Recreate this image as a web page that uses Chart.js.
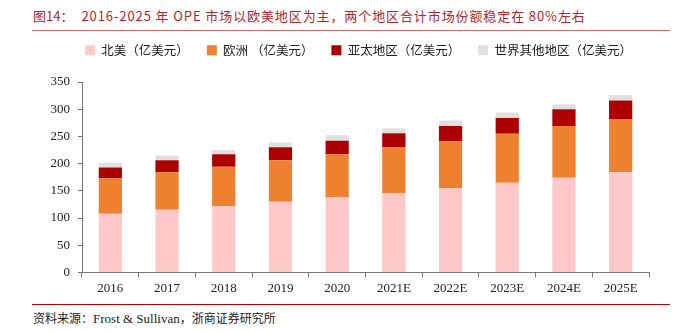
<!DOCTYPE html>
<html>
<head>
<meta charset="utf-8">
<script src="https://cdn.jsdelivr.net/npm/chart.js@4.4.0/dist/chart.umd.min.js"></script>
<style>
  body { margin: 0; background: #fff; width: 676px; height: 332px; position: relative; overflow: hidden; }
  .title { position: absolute; left: 33px; top: 6px; font-family: "Noto Sans CJK SC", sans-serif; font-size: 13px; color: #b3262c; white-space: nowrap; letter-spacing: 0.9px; }
  .title .num { margin-right: 8px; letter-spacing: 0; }
  .line-top { position: absolute; left: 32px; top: 30px; width: 638px; height: 1px; background: #d26a6a; }
  .line-bottom { position: absolute; left: 32px; top: 304px; width: 638px; height: 1px; background: #c00000; }
  .source { position: absolute; left: 33px; top: 309px; font-family: "Noto Sans CJK SC", sans-serif; font-size: 12px; color: #222; white-space: nowrap; }
  .source .en { font-family: "Liberation Serif", serif; font-size: 13px; }
  #wrap { position: absolute; left: 0; top: 26px; width: 676px; height: 273px; }
</style>
</head>
<body>
<div class="title"><span class="num">图14：</span>2016-2025 年 OPE 市场以欧美地区为主，两个地区合计市场份额稳定在 80%左右</div>
<div class="line-top"></div>
<div id="wrap"><canvas id="barChart"></canvas></div>
<div class="line-bottom"></div>
<div class="source">资料来源：<span class="en">Frost &amp; Sullivan</span>，浙商证券研究所</div>

<script>
  // categories
  const years = ["2016", "2017", "2018", "2019", "2020", "2021E", "2022E", "2023E", "2024E", "2025E"];

  // values (亿美元)
  const northAmerica = [108, 115, 122, 130, 138, 146, 155, 165, 174, 184];
  const europe = [65, 69, 72, 76, 79, 84, 86, 90, 95, 98];
  const asiaPacific = [20, 22, 23, 24, 25, 26, 28, 29, 31, 34];
  const restOfWorld = [8, 9, 8, 9, 10, 9, 10, 10, 9, 10];

  const yTicks = [0, 50, 100, 150, 200, 250, 300, 350];

  const seriesNames = ["北美（亿美元）", "欧洲 （亿美元）", "亚太地区（亿美元）", "世界其他地区（亿美元）"];
  const seriesColors = ["#ffc9c9", "#ed8130", "#ad0000", "#e0e0e0"];
  const seriesData = [northAmerica, europe, asiaPacific, restOfWorld];

  const datasets = seriesData.map((d, i) => ({
    label: seriesNames[i],
    data: d,
    backgroundColor: seriesColors[i],
    borderWidth: 0,
    barPercentage: 0.41,
    categoryPercentage: 1,
  }));

  // fix legend height so plot top lands where it should,
  // and nudge the legend row a bit to the right like the original
  const legendTweak = {
    id: "legendTweak",
    beforeInit(chart) {
      const fit = chart.legend.fit;
      chart.legend.fit = function () {
        fit.bind(chart.legend)();
        this.height = 56;
      };
    },
    afterLayout(chart) {
      chart.legend.left += 20;
      chart.legend.right += 20;
    },
  };

  const axisColor = "#777";
  const tickFont = { family: "Liberation Serif", size: 13 };

  new Chart(document.getElementById("barChart"), {
    type: "bar",
    data: { labels: years, datasets: datasets },
    plugins: [legendTweak],
    options: {
      responsive: true,
      maintainAspectRatio: false,
      animation: false,
      layout: { padding: { left: 28, right: 27, top: 0, bottom: 0 } },
      plugins: {
        legend: {
          position: "top",
          labels: {
            boxWidth: 10,
            boxHeight: 10,
            padding: 18,
            color: "#222",
            font: { family: "Noto Sans CJK SC", size: 12.5 },
          },
        },
        tooltip: { enabled: false },
      },
      scales: {
        x: {
          stacked: true,
          offset: true,
          grid: {
            offset: true,
            drawOnChartArea: false,
            drawTicks: true,
            tickLength: 5,
            color: axisColor,
          },
          border: { color: axisColor, width: 1 },
          ticks: { color: "#222", font: tickFont, padding: 3, maxRotation: 0 },
        },
        y: {
          stacked: true,
          min: 0,
          max: 350,
          afterFit(scale) {
            scale.width = 54;
          },
          afterBuildTicks(scale) {
            scale.ticks = yTicks.map((v) => ({ value: v }));
          },
          grid: {
            drawOnChartArea: false,
            drawTicks: true,
            tickLength: 4,
            color: axisColor,
          },
          border: { color: axisColor, width: 1 },
          ticks: { color: "#222", font: tickFont, padding: 8 },
        },
      },
    },
  });
</script>
</body>
</html>
